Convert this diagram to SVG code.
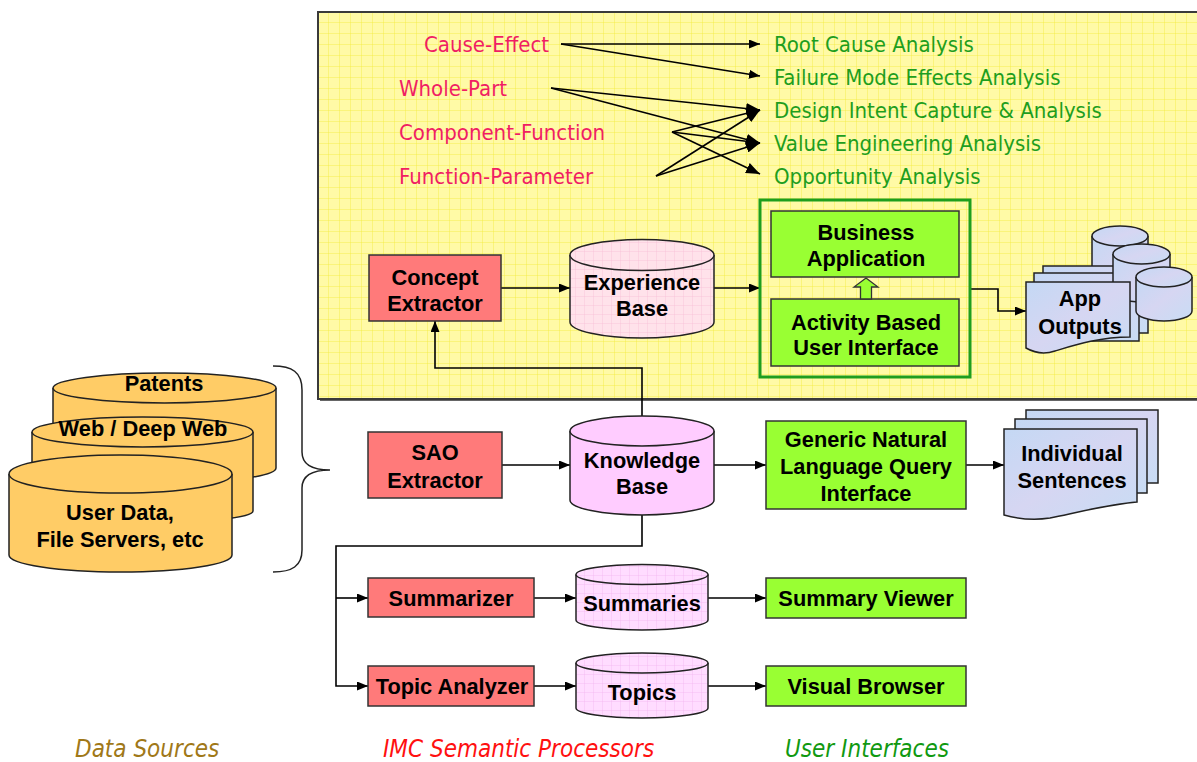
<svg xmlns="http://www.w3.org/2000/svg" width="1197" height="762" viewBox="0 0 1197 762">
<defs>
<style>
.t{font-family:"DejaVu Sans Condensed","DejaVu Sans",sans-serif;font-size:22px;font-stretch:condensed}
.red{fill:#f01e64}
.grn{fill:#1e9e1e}
.b{font-family:"Liberation Sans",Arial,sans-serif;font-weight:bold;font-size:21.8px;fill:#000;text-anchor:middle}
.box{stroke:#333;stroke-width:1.5}
.rbox{fill:#ff7a7a}
.gbox{fill:#99ff33}
.ln{fill:none;stroke:#000;stroke-width:1.6}
.cyl{stroke:#222;stroke-width:1.5}
.lab{font-family:"DejaVu Sans Condensed","DejaVu Sans",sans-serif;font-style:italic;font-size:24px;font-stretch:condensed}
</style>
<pattern id="grid" width="11" height="11" patternUnits="userSpaceOnUse" x="318" y="12">
<rect width="11" height="11" fill="#fffaa6"/>
<path d="M11,0V11M0,11H11" stroke="#f2ea3a" stroke-width="0.8" fill="none"/>
</pattern>
<pattern id="pgrid" width="9" height="9" patternUnits="userSpaceOnUse">
<rect width="9" height="9" fill="#ffe2ea"/>
<path d="M9,0V9M0,9H9" stroke="#f6bcd6" stroke-width="0.7" fill="none"/>
</pattern>
<pattern id="mgrid" width="9" height="9" patternUnits="userSpaceOnUse">
<rect width="9" height="9" fill="#ffdcff"/>
<path d="M9,0V9M0,9H9" stroke="#f0b2ee" stroke-width="0.7" fill="none"/>
</pattern>
<linearGradient id="blue" x1="0" y1="0" x2="1" y2="1">
<stop offset="0" stop-color="#c4d8f4"/>
<stop offset="0.5" stop-color="#d6d6f2"/>
<stop offset="1" stop-color="#c8dcf4"/>
</linearGradient>
<marker id="ah" markerUnits="userSpaceOnUse" markerWidth="11" markerHeight="9" refX="11" refY="4.5" orient="auto">
<path d="M0,0L11,4.5L0,9z" fill="#000"/>
</marker>
<marker id="ah2" markerUnits="userSpaceOnUse" markerWidth="14" markerHeight="11" refX="14" refY="5.5" orient="auto">
<path d="M0,0L14,5.5L0,11z" fill="#000"/>
</marker>
</defs>
<rect width="1197" height="762" fill="#fff"/>

<!-- yellow panel -->
<g id="panel">
<rect x="320" y="14" width="900" height="387" fill="#666"/>
<rect x="318" y="12" width="900" height="387" fill="url(#grid)" stroke="#3a3a3a" stroke-width="2"/>
</g>

<!-- relation labels -->
<g id="relations">
<text class="t red" x="424" y="52">Cause-Effect</text>
<text class="t red" x="399" y="96">Whole-Part</text>
<text class="t red" x="399" y="140">Component-Function</text>
<text class="t red" x="399" y="184">Function-Parameter</text>
</g>
<g id="analyses">
<text class="t grn" x="774" y="52">Root Cause Analysis</text>
<text class="t grn" x="774" y="85">Failure Mode Effects Analysis</text>
<text class="t grn" x="774" y="118">Design Intent Capture &amp; Analysis</text>
<text class="t grn" x="774" y="151">Value Engineering Analysis</text>
<text class="t grn" x="774" y="184">Opportunity Analysis</text>
</g>

<!-- data sources -->
<g id="patents">
<path class="cyl" fill="#ffcc66" d="M53,388V468A111.5,15 0 0 0 276,468V388"/>
<ellipse class="cyl" fill="#ffcc66" cx="164.5" cy="388" rx="111.5" ry="15"/>
<text class="b" x="164" y="391">Patents</text>
</g>
<g id="web">
<path class="cyl" fill="#ffcc66" d="M32,432V511A110.5,12 0 0 0 253,511V432"/>
<ellipse class="cyl" fill="#ffcc66" cx="142.5" cy="432" rx="110.5" ry="15"/>
<text class="b" x="143" y="436">Web / Deep Web</text>
</g>
<g id="userdata">
<path class="cyl" fill="#ffcc66" d="M9,474V555A111.5,17 0 0 0 232,555V474"/>
<ellipse class="cyl" fill="#ffcc66" cx="120.5" cy="474" rx="111.5" ry="19"/>
<text class="b" x="120" y="520">User Data,</text>
<text class="b" x="120" y="547">File Servers, etc</text>
</g>
<g id="brace">
<path d="M273,366C292,366 302,372 302,390V452C302,464 312,470 330,470C312,470 302,476 302,488V550C302,566 292,572 273,572" fill="none" stroke="#222" stroke-width="1.5"/>
</g>

<!-- connectors -->
<g id="connectors">
<path class="ln" d="M561,44H760" marker-end="url(#ah)"/>
<path class="ln" d="M561,44L760,76" marker-end="url(#ah)"/>
<path class="ln" d="M551,88L760,110" marker-end="url(#ah2)"/>
<path class="ln" d="M551,88L760,143" marker-end="url(#ah2)"/>
<path class="ln" d="M672,132L760,110" marker-end="url(#ah2)"/>
<path class="ln" d="M672,132L760,143" marker-end="url(#ah2)"/>
<path class="ln" d="M672,132L760,174" marker-end="url(#ah2)"/>
<path class="ln" d="M656,176L760,110" marker-end="url(#ah2)"/>
<path class="ln" d="M656,176L760,143" marker-end="url(#ah2)"/>
<path class="ln" d="M501,288H570" marker-end="url(#ah)"/>
<path class="ln" d="M714,288H760" marker-end="url(#ah)"/>
<path class="ln" d="M970,289H998V311H1026" marker-end="url(#ah)"/>
<path class="ln" d="M642,416V368H435V321" marker-end="url(#ah)"/>
<path class="ln" d="M502,465H570" marker-end="url(#ah)"/>
<path class="ln" d="M714,465H766" marker-end="url(#ah)"/>
<path class="ln" d="M966,465H1004" marker-end="url(#ah)"/>
<path class="ln" d="M642,515V546H336V686H368" marker-end="url(#ah)"/>
<path class="ln" d="M336,598H368" marker-end="url(#ah)"/>
<path class="ln" d="M534,598H576" marker-end="url(#ah)"/>
<path class="ln" d="M534,686H576" marker-end="url(#ah)"/>
<path class="ln" d="M708,598H766" marker-end="url(#ah)"/>
<path class="ln" d="M708,686H766" marker-end="url(#ah)"/>
</g>

<!-- upper processing -->
<g id="concept-extractor">
<rect class="box rbox" x="369" y="255" width="132" height="66"/>
<text class="b" x="435" y="285">Concept</text>
<text class="b" x="435" y="311">Extractor</text>
</g>
<g id="experience-base">
<path class="cyl" fill="url(#pgrid)" d="M570,255V322A72,16 0 0 0 714,322V255"/>
<ellipse class="cyl" fill="url(#pgrid)" cx="642" cy="255" rx="72" ry="15.5"/>
<text class="b" x="642" y="290">Experience</text>
<text class="b" x="642" y="316">Base</text>
</g>
<g id="app-group">
<rect x="760" y="200" width="210" height="177" fill="none" stroke="#1e9e1e" stroke-width="3"/>
</g>
<g id="business-application">
<rect class="box gbox" x="771" y="211" width="188" height="66"/>
<text class="b" x="866" y="240">Business</text>
<text class="b" x="866" y="266">Application</text>
</g>
<g id="activity-ui">
<rect class="box gbox" x="771" y="299" width="188" height="67"/>
<text class="b" x="866" y="330">Activity Based</text>
<text class="b" x="866" y="355">User Interface</text>
<path d="M860.5,299V287H854L866,278L878,287H871.5V299Z" fill="#99ff33" stroke="#333" stroke-width="1.3"/>
</g>
<g id="app-outputs">
<path class="cyl" fill="url(#blue)" d="M1092,236V276A28,10 0 0 0 1148,276V236"/>
<ellipse class="cyl" fill="url(#blue)" cx="1120" cy="236" rx="28" ry="10"/>
<rect class="cyl" fill="url(#blue)" x="1043" y="266" width="105" height="67"/>
<rect class="cyl" fill="url(#blue)" x="1034" y="273" width="105" height="68"/>
<path class="cyl" fill="url(#blue)" d="M1113,254V292A28.5,10 0 0 0 1170,292V254"/>
<ellipse class="cyl" fill="url(#blue)" cx="1141.5" cy="254" rx="28.5" ry="10"/>
<path class="cyl" fill="url(#blue)" d="M1136,277V311A28,10 0 0 0 1192,311V277"/>
<ellipse class="cyl" fill="url(#blue)" cx="1164" cy="277" rx="28" ry="10"/>
<path class="cyl" fill="url(#blue)" d="M1026,282H1130V337C1100,337 1075,345 1055,351C1043,355 1033,352 1026,348Z"/>
<text class="b" x="1080" y="306">App</text>
<text class="b" x="1080" y="334">Outputs</text>
</g>

<!-- lower processing -->
<g id="sao-extractor">
<rect class="box rbox" x="368" y="432" width="134" height="66"/>
<text class="b" x="435" y="460">SAO</text>
<text class="b" x="435" y="488">Extractor</text>
</g>
<g id="knowledge-base">
<path class="cyl" fill="#ffccff" d="M570,431V500A72,15 0 0 0 714,500V431"/>
<ellipse class="cyl" fill="#ffccff" cx="642" cy="431" rx="72" ry="15"/>
<text class="b" x="642" y="468">Knowledge</text>
<text class="b" x="642" y="494">Base</text>
</g>
<g id="nlq-interface">
<rect class="box gbox" x="766" y="421" width="200" height="88"/>
<text class="b" x="866" y="447">Generic Natural</text>
<text class="b" x="866" y="474">Language Query</text>
<text class="b" x="866" y="501">Interface</text>
</g>
<g id="individual-sentences">
<rect class="cyl" fill="url(#blue)" x="1026" y="410" width="132" height="73"/>
<rect class="cyl" fill="url(#blue)" x="1015" y="419" width="132" height="74"/>
<path class="cyl" fill="url(#blue)" d="M1004,429H1137V502C1105,505 1075,513 1050,518C1030,521 1015,518 1004,515Z"/>
<text class="b" x="1072" y="461">Individual</text>
<text class="b" x="1072" y="488">Sentences</text>
</g>
<g id="summarizer">
<rect class="box rbox" x="368" y="578" width="166" height="39"/>
<text class="b" x="451" y="606">Summarizer</text>
</g>
<g id="summaries">
<path class="cyl" fill="url(#mgrid)" d="M576,574.5V620A66,10 0 0 0 708,620V574.5"/>
<ellipse class="cyl" fill="url(#mgrid)" cx="642" cy="574.5" rx="66" ry="10"/>
<text class="b" x="642" y="611">Summaries</text>
</g>
<g id="summary-viewer">
<rect class="box gbox" x="766" y="578" width="200" height="40"/>
<text class="b" x="866" y="606">Summary Viewer</text>
</g>
<g id="topic-analyzer">
<rect class="box rbox" x="368" y="666" width="166" height="40"/>
<text class="b" x="452" y="694">Topic Analyzer</text>
</g>
<g id="topics">
<path class="cyl" fill="url(#mgrid)" d="M576,663V708A66,10 0 0 0 708,708V663"/>
<ellipse class="cyl" fill="url(#mgrid)" cx="642" cy="663" rx="66" ry="10"/>
<text class="b" x="642" y="700">Topics</text>
</g>
<g id="visual-browser">
<rect class="box gbox" x="766" y="666" width="200" height="40"/>
<text class="b" x="866" y="694">Visual Browser</text>
</g>

<!-- column labels -->
<g id="labels">
<text class="lab" x="75" y="757" fill="#a07818">Data Sources</text>
<text class="lab" x="383" y="757" fill="#ff1010">IMC Semantic Processors</text>
<text class="lab" x="785" y="757" fill="#119911">User Interfaces</text>
</g>
</svg>
